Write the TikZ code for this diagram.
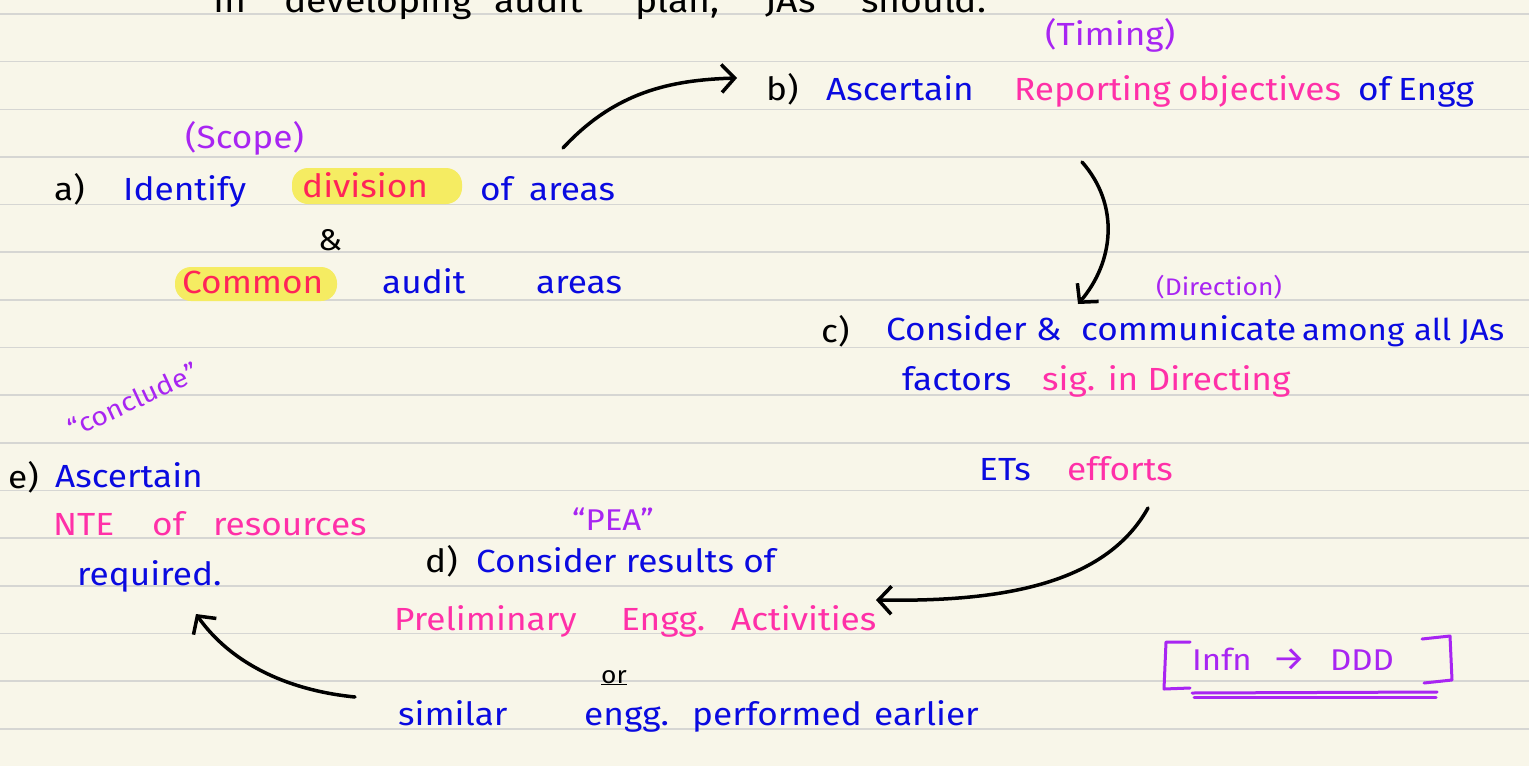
\documentclass[tikz,border=0pt]{standalone}
\usepackage{fontspec}
\setmainfont{Fira Sans}[FakeStretch=1.1]
\usetikzlibrary{arrows.meta}
\definecolor{paper}{HTML}{F8F6E9}
\definecolor{ruleline}{HTML}{D6D6D3}
\definecolor{ink}{HTML}{0A0AE0}
\definecolor{pinkink}{HTML}{FF30A8}
\definecolor{purp}{HTML}{A825F2}
\definecolor{redink}{HTML}{FF2458}
\definecolor{hl}{HTML}{F5EC62}
\begin{document}
\begin{tikzpicture}[x=1pt,y=-1pt,
  txt/.style={inner sep=0pt, anchor=base west, font=\fontsize{32}{36}\selectfont},
  bl/.style={txt, text=ink},
  pk/.style={txt, text=pinkink},
  rd/.style={txt, text=redink},
  bk/.style={txt, text=black},
  pu/.style={txt, text=purp},
  ttl/.style={bk, font=\fontsize{34}{38}\selectfont},
  arr/.style={line width=3.5pt, line cap=round, line join=round,
    -{Straight Barb[length=13pt,width=28pt,line width=3.5pt]}},
  hlbox/.style={fill=hl, rounded corners=16pt}
]
\fill[paper] (0,0) rectangle (1529,766);
\useasboundingbox (0,0) rectangle (1529,766);
\clip (0,0) rectangle (1529,766);
\foreach \k in {0,...,15} \draw[ruleline, line width=1.6pt] (0,14+47.65*\k) -- (1529,14+47.65*\k);

% highlights
\fill[hlbox] (292,168) rectangle (462,204);
\fill[hlbox] (175,267) rectangle (337,301);

% title line (cut at top)
\node[ttl] (t1) at (213,12) {In};
\node[ttl] (t2) at (284,12) {developing};
\node[ttl] (t3) at (494,12) {audit};
\node[ttl] (t4) at (635,12) {plan,};
\node[ttl] (t5) at (765,12) {JAs};
\node[ttl] (t6) at (861,12) {should:};

% b
\node[pu] (timing) at (1045,45) {(Timing)};
\node[bk] (bmark) at (766,100) {b)};
\node[bl] (bAsc) at (826,100) {Ascertain};
\node[pk] (bRep) at (1014,100) {Reporting};
\node[pk] (bObj) at (1178,100) {objectives};
\node[bl] (bOf) at (1358,100) {of};
\node[bl] (bEngg) at (1398,100) {Engg};

% a
\node[pu] (scope) at (185,148) {(Scope)};
\node[bk] (amark) at (54,200) {a)};
\node[bl] (aIdent) at (123,200) {Identify};
\node[rd] (aDiv) at (302,197) {division};
\node[bl] (aOf) at (480,200) {of};
\node[bl] (aAreas) at (529,200) {areas};
\node[bk, font=\fontsize{30}{34}\selectfont] (amp) at (318,250) {\&};
\node[rd] (aCommon) at (182,293) {Common};
\node[bl] (aAudit) at (382,293) {audit};
\node[bl] (aAreas2) at (536,293) {areas};

% c
\node[pu, font=\fontsize{24}{28}\selectfont] (direction) at (1156,295) {(Direction)};
\node[bk] (cmark) at (821,342) {c)};
\node[bl] (cCons) at (886,340) {Consider \&};
\node[bl] (cComm) at (1081,340) {communicate};
\node[bl, font=\fontsize{30}{34}\selectfont] (cAmong) at (1302,340) {among};
\node[bl, font=\fontsize{30}{34}\selectfont] (cAll) at (1414,340) {all JAs};
\node[bl] (cFactors) at (902,390) {factors};
\node[pk] (cSig) at (1042,390) {sig. in Directing};
\node[bl] (cETs) at (979,480) {ETs};
\node[pk] (cEff) at (1067,480) {efforts};

% e
\node[pu, font=\fontsize{26}{30}\selectfont, anchor=center, rotate=25] (conclude) at (133,400) {“conclude”};
\node[bk] (emark) at (8,488) {e)};
\node[bl] (eAsc) at (55,487) {Ascertain};
\node[pk] (eNTE) at (53,535) {NTE};
\node[pk] (eOf) at (152,535) {of};
\node[pk] (eRes) at (213,535) {resources};
\node[bl] (eReq) at (77,585) {required.};

% d
\node[pu, font=\fontsize{30}{34}\selectfont] (pea) at (572,530) {“PEA”};
\node[bk] (dmark) at (425,572) {d)};
\node[bl] (dCons) at (476,572) {Consider results of};
\node[pk] (dPrel) at (394,630) {Preliminary};
\node[pk] (dEngg) at (621,630) {Engg.};
\node[pk] (dAct) at (731,630) {Activities};
\node[bk, font=\fontsize{24}{28}\selectfont] (dOr) at (601,683) {\underline{or}};
\node[bl] (dSim) at (398,725) {similar};
\node[bl] (dEngg2) at (584,725) {engg.};
\node[bl] (dPerf) at (692,725) {performed};
\node[bl] (dEarl) at (874,725) {earlier};

% Infn box
\node[pu, font=\fontsize{30}{34}\selectfont] (infn) at (1192,670) {Infn};
\node[pu, font=\fontsize{34}{38}\selectfont] (iarr) at (1272,670) {→};
\node[pu, font=\fontsize{30}{34}\selectfont] (ddd) at (1330,670) {DDD};
\draw[purp, line width=3pt, line cap=round, line join=round] (1190,642) -- (1166,642) -- (1164,689) -- (1190,688);
\draw[purp, line width=3pt, line cap=round, line join=round] (1422,639) -- (1450,636) -- (1452,680) -- (1424,683);
\draw[purp, line width=3pt, line cap=round] (1192,693) -- (1437,692);
\draw[purp, line width=3pt, line cap=round] (1194,697) -- (1436,697);

% connectors
\coordinate (a1s) at (563,148);
\coordinate (a1e) at (737,78);
\coordinate (a2s) at (1082,162);
\coordinate (a2e) at (1078,304);
\coordinate (a3s) at (1148,508);
\coordinate (a3e) at (876,600);
\coordinate (a4s) at (355,697);
\coordinate (a4e) at (196,614);
\draw[arr] (a1s) .. controls (615,92) and (670,80) .. (a1e);
\draw[arr] (a2s) .. controls (1120,205) and (1114,262) .. (a2e);
\draw[arr] (a3s) .. controls (1105,585) and (1000,602) .. (a3e);
\draw[arr] (a4s) .. controls (285,690) and (230,662) .. (a4e);
\end{tikzpicture}
\end{document}
